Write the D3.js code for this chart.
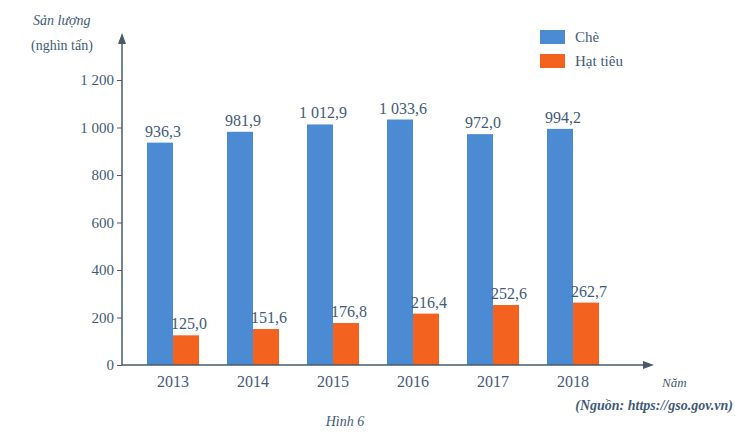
<!DOCTYPE html>
<html>
<head>
<meta charset="utf-8">
<script src="https://cdn.jsdelivr.net/npm/d3@7"></script>
<style>
  body { margin: 0; background: #fff; }
  svg text { font-family: "Liberation Serif", "DejaVu Serif", serif !important; }
</style>
</head>
<body>
<div id="chart"></div>
<script>
// data
const years = ["2013", "2014", "2015", "2016", "2017", "2018"];
const che = [936.3, 981.9, 1012.9, 1033.6, 972.0, 994.2];
const hatTieu = [125.0, 151.6, 176.8, 216.4, 252.6, 262.7];
const yTicks = [0, 200, 400, 600, 800, 1000, 1200];
const seriesNames = ["Chè", "Hạt tiêu"];

const colors = ["#4a8bd3", "#f4621f"];
const textColor = "#3f5b78";
const axisColor = "#4a5a6a";
const serif = "'Liberation Serif', 'DejaVu Serif', serif";

const width = 735, height = 435;
const svg = d3.select("#chart").append("svg")
  .attr("width", width).attr("height", height)
  .attr("font-family", serif);

const x0 = 122, y0 = 365;
const y = d3.scaleLinear().domain([0, 1200]).range([y0, 80]);
const x = d3.scaleBand().domain(years).range([147, 599]).paddingInner(0.35).paddingOuter(0);
const xs = d3.scaleBand().domain([0, 1]).range([0, x.bandwidth()]);

const fmtNum = v => {
  const s = String(v);
  return s.length > 3 ? s.slice(0, -3) + " " + s.slice(-3) : s;
};
const fmtVal = v => {
  const parts = v.toFixed(1).split(".");
  return fmtNum(parts[0]) + "," + parts[1];
};

// bars
const groups = svg.selectAll("g.year").data(years).enter().append("g")
  .attr("class", "year")
  .attr("transform", d => `translate(${x(d)},0)`);

[che, hatTieu].forEach((vals, si) => {
  groups.append("rect")
    .attr("x", xs(si))
    .attr("width", xs.bandwidth())
    .attr("y", (d, i) => y(vals[i]))
    .attr("height", (d, i) => y0 - y(vals[i]))
    .attr("fill", colors[si]);

  groups.append("text")
    .attr("x", xs(si) + xs.bandwidth() / 2 + 3)
    .attr("y", (d, i) => y(vals[i]) - 6)
    .attr("text-anchor", "middle")
    .attr("fill", textColor)
    .style("font-size", "16px")
    .text((d, i) => fmtVal(vals[i]));
});

// y axis
const yAxis = svg.append("g")
  .attr("transform", `translate(${x0},0)`)
  .call(d3.axisLeft(y).tickValues(yTicks).tickSize(5).tickFormat(fmtNum));
yAxis.attr("font-family", serif);
yAxis.select(".domain").remove();
yAxis.selectAll(".tick line").attr("stroke", axisColor);
yAxis.selectAll(".tick text").attr("fill", textColor).attr("x", -8)
  .style("font-size", "15px");
svg.append("line").attr("x1", x0).attr("x2", x0).attr("y1", y0).attr("y2", 42)
  .attr("stroke", axisColor).attr("stroke-width", 1.5);
svg.append("path").attr("d", `M${x0 - 4},44 L${x0},33 L${x0 + 4},44 Z`).attr("fill", axisColor);

// x axis
svg.append("line").attr("x1", x0).attr("x2", 645).attr("y1", y0).attr("y2", y0)
  .attr("stroke", axisColor).attr("stroke-width", 1.5);
svg.append("path").attr("d", `M643,${y0 - 4} L654,${y0} L643,${y0 + 4} Z`).attr("fill", axisColor);
svg.selectAll("text.year").data(years).enter().append("text")
  .attr("class", "year")
  .attr("x", d => x(d) + x.bandwidth() / 2)
  .attr("y", y0 + 22)
  .attr("text-anchor", "middle")
  .attr("fill", textColor)
  .style("font-size", "16px")
  .text(d => d);

// axis titles
svg.append("text").attr("x", 33).attr("y", 25).attr("fill", textColor)
  .style("font-size", "14px").style("font-style", "italic").text("Sản lượng");
svg.append("text").attr("x", 31).attr("y", 50).attr("fill", textColor)
  .style("font-size", "14px").text("(nghìn tấn)");
svg.append("text").attr("x", 662).attr("y", y0 + 22).attr("fill", textColor)
  .style("font-size", "13px").style("font-style", "italic").text("Năm");

// legend
const legend = svg.append("g").attr("transform", "translate(540,30)");
seriesNames.forEach((name, i) => {
  legend.append("rect").attr("x", 0).attr("y", i * 24).attr("width", 25).attr("height", 14)
    .attr("fill", colors[i]);
  legend.append("text").attr("x", 35).attr("y", i * 24 + 12).attr("fill", textColor)
    .style("font-size", "15px").text(name);
});

// source and caption
svg.append("text").attr("x", 733).attr("y", 410).attr("text-anchor", "end")
  .attr("fill", textColor).style("font-size", "14px").style("font-style", "italic")
  .style("font-weight", "bold")
  .text("(Nguồn: https://gso.gov.vn)");
svg.append("text").attr("x", 345).attr("y", 426).attr("text-anchor", "middle")
  .attr("fill", textColor).style("font-size", "14px").style("font-style", "italic")
  .text("Hình 6");
</script>
</body>
</html>
